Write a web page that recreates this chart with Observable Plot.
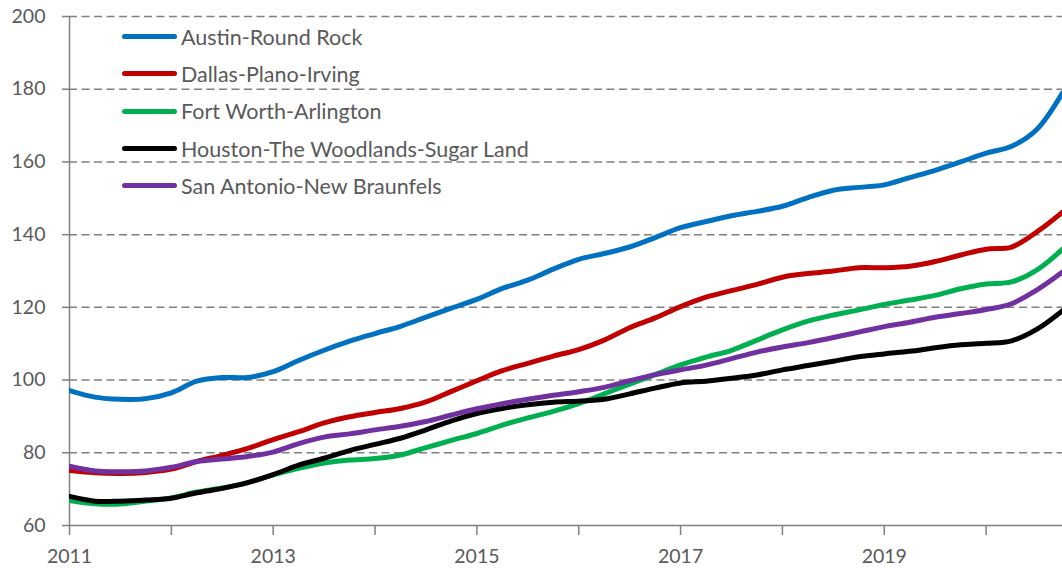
<!DOCTYPE html>
<html><head><meta charset="utf-8">
<script src="https://cdn.jsdelivr.net/npm/d3@7"></script>
<script src="https://cdn.jsdelivr.net/npm/@observablehq/plot@0.6"></script>
<style>
body{margin:0;background:#fff;}
#wrap{position:relative;width:1062px;height:570px;font-family:Lato, "Liberation Sans", sans-serif;overflow:hidden;}
#legend{position:absolute;left:122px;top:18px;}
.item{display:flex;align-items:center;height:37.3px;font-size:21.5px;color:#595959;white-space:nowrap;}
.sw{width:55px;height:5px;border-radius:3px;margin-right:4px;}
</style></head>
<body><div id="wrap"><div id="legend"></div></div>
<script>
const times = [2011, 2011.25, 2011.5, 2011.75, 2012, 2012.25, 2012.5, 2012.75, 2013, 2013.25, 2013.5, 2013.75,
  2014, 2014.25, 2014.5, 2014.75, 2015, 2015.25, 2015.5, 2015.75, 2016, 2016.25, 2016.5, 2016.75,
  2017, 2017.25, 2017.5, 2017.75, 2018, 2018.25, 2018.5, 2018.75, 2019, 2019.25, 2019.5, 2019.75,
  2020, 2020.25, 2020.5, 2020.75];

const seriesNames = ["Austin-Round Rock", "Dallas-Plano-Irving", "Fort Worth-Arlington",
  "Houston-The Woodlands-Sugar Land", "San Antonio-New Braunfels"];
const seriesColors = ["#0070C0", "#C00000", "#00B050", "#000000", "#7030A0"];

const austin = [97.1, 95.3, 94.7, 94.9, 96.5, 99.7, 100.7, 100.7, 102.3, 105.4, 108.2, 110.7,
  112.8, 114.8, 117.3, 119.8, 122.2, 125.2, 127.5, 130.5, 133.2, 134.8, 136.6, 139.2,
  141.9, 143.6, 145.2, 146.4, 147.8, 150.2, 152.2, 153.0, 153.7, 155.7, 157.7, 160.0,
  162.4, 164.3, 169.0, 179.0];
const dallas = [75.1, 74.5, 74.3, 74.6, 75.5, 77.6, 79.3, 81.2, 83.6, 85.8, 88.2, 89.9,
  91.1, 92.2, 94.0, 96.9, 99.8, 102.6, 104.6, 106.6, 108.4, 111.0, 114.4, 117.1,
  120.2, 122.8, 124.6, 126.3, 128.3, 129.3, 130.0, 130.9, 130.9, 131.3, 132.6, 134.4,
  136.0, 136.6, 140.8, 146.2];
const fortWorth = [66.9, 66.0, 65.9, 66.7, 67.6, 69.2, 70.3, 71.8, 73.9, 75.7, 77.2, 78.0,
  78.4, 79.4, 81.4, 83.4, 85.3, 87.6, 89.6, 91.4, 93.5, 96.2, 98.9, 101.5,
  104.2, 106.3, 108.2, 111.0, 113.8, 116.2, 117.9, 119.3, 120.8, 122.0, 123.3, 125.1,
  126.4, 127.0, 130.3, 136.0];
const houston = [68.0, 66.7, 66.7, 67.0, 67.5, 69.0, 70.2, 71.8, 74.0, 76.6, 78.5, 80.6,
  82.3, 84.0, 86.3, 88.8, 90.8, 92.2, 93.2, 93.9, 94.2, 94.7, 96.2, 97.8,
  99.2, 99.7, 100.5, 101.4, 102.8, 104.0, 105.2, 106.4, 107.2, 107.9, 108.9, 109.7,
  110.1, 110.8, 114.0, 119.1];
const sanAntonio = [76.3, 75.0, 74.8, 75.0, 76.0, 77.6, 78.3, 79.0, 80.2, 82.5, 84.3, 85.2,
  86.3, 87.3, 88.6, 90.4, 92.1, 93.5, 94.7, 95.8, 96.8, 98.0, 99.8, 101.5,
  102.8, 104.1, 105.9, 107.7, 109.1, 110.3, 111.7, 113.2, 114.7, 115.9, 117.3, 118.3,
  119.4, 121.0, 124.8, 129.7];

const yTicks = [60, 80, 100, 120, 140, 160, 180, 200];
const xTicks = [2011, 2012, 2013, 2014, 2015, 2016, 2017, 2018, 2019, 2020];
const xLabels = ["2011", "", "2013", "", "2015", "", "2017", "", "2019", ""];

const allSeries = [austin, dallas, fortWorth, houston, sanAntonio];
const rows = [];
allSeries.forEach((vals, i) => vals.forEach((v, j) => rows.push({series: seriesNames[i], t: times[j], v})));

const gray = "#808080";
const chart = Plot.plot({
  width: 1062,
  height: 570,
  marginLeft: 69,
  marginRight: 0,
  marginTop: 16,
  marginBottom: 45,
  style: {fontFamily: "Lato, 'Liberation Sans', sans-serif", fontSize: "19.5px", color: "#595959", background: "white", overflow: "visible"},
  x: {domain: [2011, 2020.75]},
  y: {domain: [60, 200]},
  color: {domain: seriesNames, range: seriesColors},
  marks: [
    Plot.gridY(yTicks.filter(d => d > 60), {stroke: gray, strokeOpacity: 1, strokeWidth: 1.5, strokeDasharray: "8,4.5"}),
    Plot.axisY(yTicks, {tickSize: 7, tickPadding: 17, stroke: gray, strokeWidth: 1.5, fill: "#595959", label: null}),
    Plot.axisX(xTicks, {tickSize: 10, tickPadding: 14, stroke: gray, strokeWidth: 1.5, fill: "#595959",
      tickFormat: d => xLabels[xTicks.indexOf(d)], label: null}),
    Plot.ruleX([2011], {stroke: gray, strokeWidth: 1.5}),
    Plot.ruleY([60], {stroke: gray, strokeWidth: 1.5}),
    Plot.line(rows, {x: "t", y: "v", z: "series", stroke: "series", strokeWidth: 5, curve: "catmull-rom", clip: true})
  ]
});
document.getElementById("wrap").prepend(chart);

const legend = document.getElementById("legend");
seriesNames.forEach((n, i) => {
  const row = document.createElement("div");
  row.className = "item";
  row.innerHTML = `<span class="sw" style="background:${seriesColors[i]}"></span><span>${n}</span>`;
  legend.appendChild(row);
});
</script>
</body></html>
